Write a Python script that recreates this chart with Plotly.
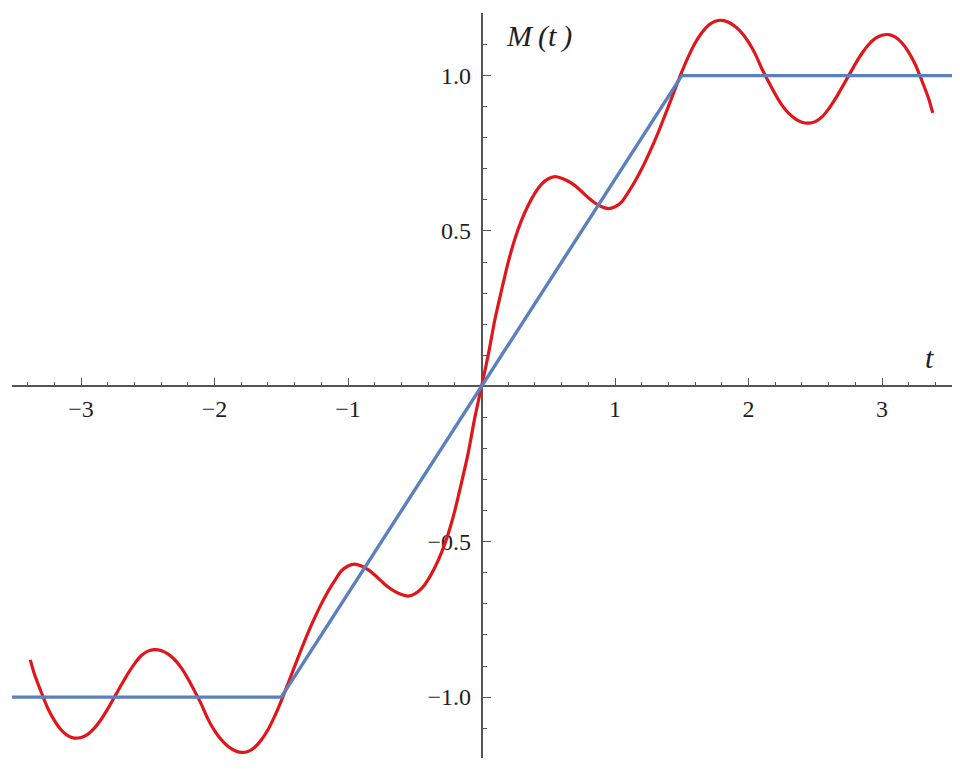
import plotly.graph_objects as go

# ---- data ----
t_red = [-3.38, -3.35, -3.3, -3.25, -3.2, -3.15, -3.1, -3.05, -3.0, -2.95, -2.9, -2.85, -2.8, -2.75,
         -2.7, -2.65, -2.6, -2.55, -2.5, -2.45, -2.4, -2.35, -2.3, -2.25, -2.2, -2.15, -2.1, -2.05,
         -2.0, -1.95, -1.9, -1.85, -1.8, -1.75, -1.7, -1.65, -1.6, -1.55, -1.5, -1.45, -1.4, -1.35,
         -1.3, -1.25, -1.2, -1.15, -1.1, -1.05, -1.0, -0.95, -0.9, -0.85, -0.8, -0.75, -0.7, -0.65,
         -0.6, -0.55, -0.5, -0.45, -0.4, -0.35, -0.3, -0.25, -0.2, -0.15, -0.1, -0.05,
         0.0,
         0.05, 0.1, 0.15, 0.2, 0.25, 0.3, 0.35, 0.4, 0.45, 0.5, 0.55, 0.6, 0.65, 0.7, 0.75, 0.8,
         0.85, 0.9, 0.95, 1.0, 1.05, 1.1, 1.15, 1.2, 1.25, 1.3, 1.35, 1.4, 1.45, 1.5, 1.55, 1.6,
         1.65, 1.7, 1.75, 1.8, 1.85, 1.9, 1.95, 2.0, 2.05, 2.1, 2.15, 2.2, 2.25, 2.3, 2.35, 2.4,
         2.45, 2.5, 2.55, 2.6, 2.65, 2.7, 2.75, 2.8, 2.85, 2.9, 2.95, 3.0, 3.05, 3.1, 3.15, 3.2,
         3.25, 3.3, 3.35, 3.38]
m_red = [-0.88, -0.925, -0.982, -1.035, -1.075, -1.105, -1.124, -1.132, -1.13, -1.12, -1.1, -1.072, -1.038, -1.0,
         -0.962, -0.925, -0.893, -0.867, -0.852, -0.847, -0.85, -0.861, -0.879, -0.905, -0.94, -0.98, -1.022, -1.07,
         -1.108, -1.137, -1.158, -1.172, -1.178, -1.175, -1.162, -1.138, -1.105, -1.062, -1.012, -0.957, -0.901, -0.846,
         -0.793, -0.745, -0.70, -0.66, -0.625, -0.594, -0.578, -0.572, -0.578, -0.59, -0.607, -0.627, -0.646, -0.66,
         -0.67, -0.675, -0.668, -0.651, -0.622, -0.583, -0.535, -0.475, -0.40, -0.31, -0.215, -0.10,
         0.0,
         0.10, 0.215, 0.31, 0.40, 0.475, 0.535, 0.583, 0.622, 0.651, 0.668, 0.675, 0.67, 0.66, 0.646, 0.627, 0.607,
         0.59, 0.578, 0.572, 0.578, 0.594, 0.625, 0.66, 0.70, 0.745, 0.793, 0.846, 0.901, 0.957, 1.012, 1.062, 1.105,
         1.138, 1.162, 1.175, 1.178, 1.172, 1.158, 1.137, 1.108, 1.07, 1.022, 0.98, 0.94, 0.905, 0.879, 0.861, 0.85,
         0.847, 0.852, 0.867, 0.893, 0.925, 0.962, 1.0, 1.038, 1.072, 1.1, 1.12, 1.13, 1.132, 1.124, 1.105, 1.075,
         1.035, 0.982, 0.925, 0.88]

t_blue = [-3.52, -1.5, 1.5, 3.53]
m_blue = [-1.0, -1.0, 1.0, 1.0]

x_ticks = [-3, -2, -1, 1, 2, 3]
x_ticklabels = ["\u22123", "\u22122", "\u22121", "1", "2", "3"]
y_ticks = [-1.0, -0.5, 0.5, 1.0]
y_ticklabels = ["\u22121.0", "\u22120.5", "0.5", "1.0"]
x_minor = [-3.4, -3.2, -2.8, -2.6, -2.4, -2.2, -1.8, -1.6, -1.4, -1.2, -0.8, -0.6, -0.4, -0.2,
           0.2, 0.4, 0.6, 0.8, 1.2, 1.4, 1.6, 1.8, 2.2, 2.4, 2.6, 2.8, 3.2, 3.4]
y_minor = [-1.2, -1.1, -0.9, -0.8, -0.7, -0.6, -0.4, -0.3, -0.2, -0.1,
           0.1, 0.2, 0.3, 0.4, 0.6, 0.7, 0.8, 0.9, 1.1, 1.2]

X_RANGE = [-3.517, 3.524]
Y_RANGE = [-1.196, 1.2015]

AX_COLOR = "#555555"
FONT = "Liberation Serif"

fig = go.Figure()
fig.add_trace(go.Scatter(x=t_red, y=m_red, mode="lines",
                         line=dict(color="#e0161a", width=3.2, shape="spline", smoothing=0.6),
                         showlegend=False, hoverinfo="skip"))
fig.add_trace(go.Scatter(x=t_blue, y=m_blue, mode="lines",
                         line=dict(color="#5a80bd", width=3.4),
                         showlegend=False, hoverinfo="skip"))

x_pos = (0 - Y_RANGE[0]) / (Y_RANGE[1] - Y_RANGE[0])
y_pos = (0 - X_RANGE[0]) / (X_RANGE[1] - X_RANGE[0])

fig.update_layout(
    width=952, height=769,
    margin=dict(l=4, r=8, t=5, b=19),
    paper_bgcolor="white", plot_bgcolor="white",
    xaxis=dict(range=X_RANGE, anchor="free", position=x_pos, showgrid=False, zeroline=False,
               showline=True, linecolor=AX_COLOR, linewidth=1.5, layer="below traces",
               tickmode="array", tickvals=x_ticks, ticktext=x_ticklabels,
               ticks="inside", ticklen=8, tickwidth=1.3, tickcolor=AX_COLOR,
               ticklabelstandoff=1,
               tickfont=dict(family=FONT, size=24, color="#1e1e1e"),
               minor=dict(tickmode="array", tickvals=x_minor, ticks="inside", ticklen=4,
                          tickwidth=1.3, tickcolor=AX_COLOR, showgrid=False)),
    yaxis=dict(range=Y_RANGE, anchor="free", position=y_pos, showgrid=False, zeroline=False,
               showline=True, linecolor=AX_COLOR, linewidth=1.5, layer="below traces",
               tickmode="array", tickvals=y_ticks, ticktext=y_ticklabels,
               ticks="inside", ticklen=9, tickwidth=1.3, tickcolor=AX_COLOR,
               ticklabelstandoff=5,
               tickfont=dict(family=FONT, size=24, color="#1e1e1e"),
               minor=dict(tickmode="array", tickvals=y_minor, ticks="inside", ticklen=5,
                          tickwidth=1.3, tickcolor=AX_COLOR, showgrid=False)),
    annotations=[
        dict(x=0.43, y=1.127, xref="x", yref="y", text="<i>M\u2009(t\u2009)</i>", showarrow=False,
             font=dict(family=FONT, size=30, color="#1e1e1e")),
        dict(x=3.352, y=0.092, xref="x", yref="y", text="<i>t</i>", showarrow=False,
             font=dict(family=FONT, size=30, color="#1e1e1e")),
    ],
)

fig.write_html("out.html")
